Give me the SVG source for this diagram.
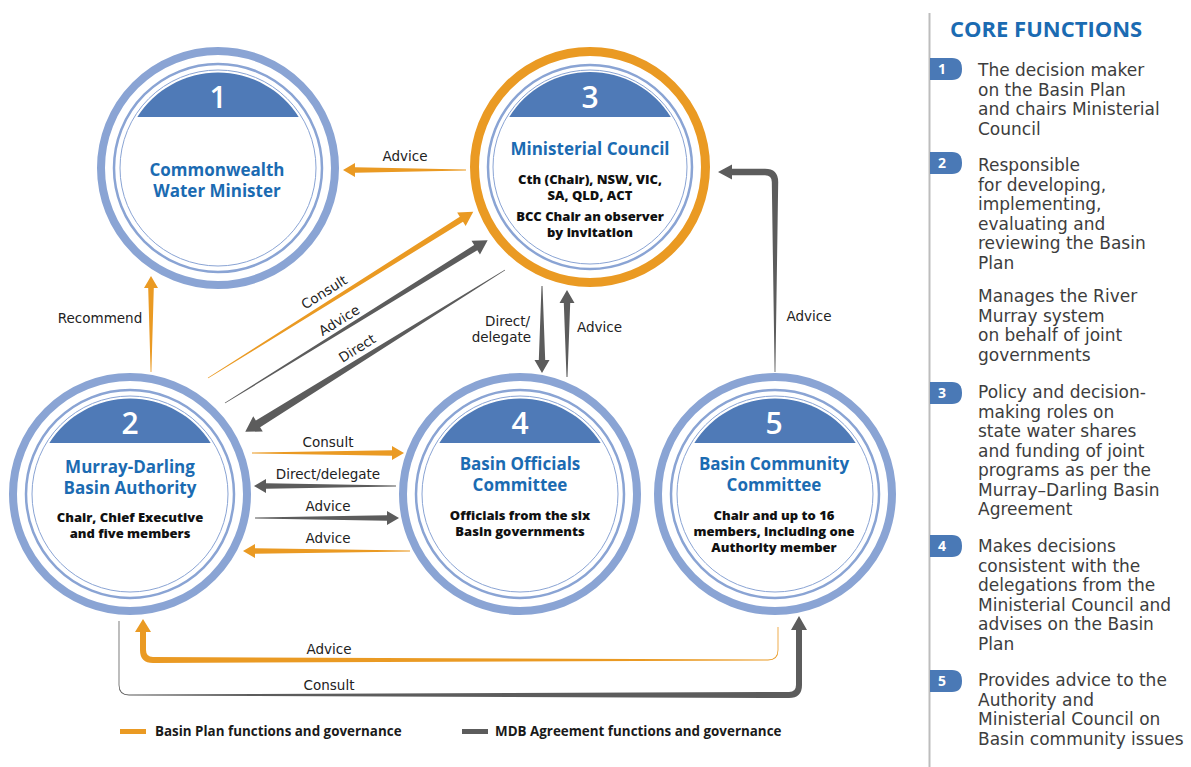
<svg xmlns="http://www.w3.org/2000/svg" width="1191" height="767" viewBox="0 0 1191 767">
  <defs>
    <style>
      .bg { fill: #ffffff; }
      .ring-outer { fill: #ffffff; stroke: #8aa4d4; stroke-width: 8; }
      .ring-orange { fill: #ffffff; stroke: #ea9a23; stroke-width: 9; }
      .ring-mid { fill: none; stroke: #8aa4d4; stroke-width: 2.5; }
      .ring-in { fill: none; stroke: #8aa4d4; stroke-width: 1; }
      .cap { fill: #4f7ab7; }
      .num { font-family: "Open Sans", "Liberation Sans", sans-serif; font-weight: 600; font-size: 30px; fill: #ffffff; text-anchor: middle; }
      .title { font-family: "Open Sans", "Liberation Sans", sans-serif; font-weight: 700; font-size: 17px; fill: #1b6bb2; text-anchor: middle; }
      .sub { font-family: "Open Sans", "Liberation Sans", sans-serif; font-weight: 800; font-size: 13px; fill: #111111; text-anchor: middle; }
      .lbl { font-family: "DejaVu Sans", "Liberation Sans", sans-serif; font-size: 13.5px; fill: #222222; }
      .mid { text-anchor: middle; }
      .end { text-anchor: end; }
      .orange { fill: #ea9a23; }
      .grey { fill: #5c5c5c; }
      .legend { font-family: "Open Sans", "Liberation Sans", sans-serif; font-weight: 700; font-size: 13.4px; fill: #1a1a1a; }
      .head { font-family: "Open Sans", "Liberation Sans", sans-serif; font-weight: 700; font-size: 22px; fill: #1b6bb2; }
      .badge { fill: #4a79b6; }
      .bnum { font-family: "Open Sans", "Liberation Sans", sans-serif; font-weight: 700; font-size: 14px; fill: #ffffff; text-anchor: middle; }
      .fn { font-family: "DejaVu Sans", "Liberation Sans", sans-serif; font-size: 17px; fill: #3d3d3d; }
    </style>
  </defs>

  <rect class="bg" x="0" y="0" width="1191" height="767"/>

  <!-- connectors (tapered arrows: thin tail, thick shaft near the head) -->
  <g id="connectors">
    <!-- 3 -> 1 Advice -->
    <path class="orange" transform="translate(466,170) rotate(180)" d="M0,-0.4 L111,-2.8 L111,-7 L123,0 L111,7 L111,2.8 L0,0.4Z"/>
    <!-- 2 -> 1 Recommend -->
    <path class="orange" transform="translate(151,372) rotate(-90)" d="M0,-0.4 L84,-2.8 L84,-7 L96,0 L84,7 L84,2.8 L0,0.4Z"/>
    <!-- 2 -> 3 Consult -->
    <path class="orange" transform="translate(208,378) rotate(-32.06)" d="M0,-0.4 L299,-3 L299,-8 L313,0 L299,8 L299,3 L0,0.4Z"/>
    <!-- 2 -> 3 Advice -->
    <path class="grey" transform="translate(225,403) rotate(-31.79)" d="M0,-0.4 L295,-3 L295,-8 L309,0 L295,8 L295,3 L0,0.4Z"/>
    <!-- 3 -> 2 Direct -->
    <path class="grey" transform="translate(505,270) rotate(148.08)" d="M0,-0.4 L291,-4 L291,-9 L306,0 L291,9 L291,4 L0,0.4Z"/>
    <!-- 3 -> 4 Direct/delegate -->
    <path class="grey" transform="translate(542,286) rotate(90)" d="M0,-0.5 L74,-3.2 L74,-7.5 L87,0 L74,7.5 L74,3.2 L0,0.5Z"/>
    <!-- 4 -> 3 Advice -->
    <path class="grey" transform="translate(567,377) rotate(-90)" d="M0,-0.5 L74,-3.2 L74,-7.5 L87,0 L74,7.5 L74,3.2 L0,0.5Z"/>
    <!-- 5 -> 3 Advice (up, then left) -->
    <path class="grey" d="M775.4,372 L778.2,182 Q778.2,168.8 765,168.8 L732,168.8 L732,164.5 L718,172 L732,179.5 L732,175.2 L765,175.2 Q771.8,175.2 771.8,182 L774.6,372 Z"/>
    <!-- 2 <-> 4 -->
    <path class="orange" transform="translate(252,453)" d="M0,-0.4 L140,-2.8 L140,-7 L152,0 L140,7 L140,2.8 L0,0.4Z"/>
    <path class="grey" transform="translate(396,486) rotate(180)" d="M0,-0.4 L130,-2.8 L130,-7 L142,0 L130,7 L130,2.8 L0,0.4Z"/>
    <path class="grey" transform="translate(255,518)" d="M0,-0.4 L132,-2.8 L132,-7 L144,0 L132,7 L132,2.8 L0,0.4Z"/>
    <path class="orange" transform="translate(410,551) rotate(180)" d="M0,-0.4 L155,-2.8 L155,-7 L167,0 L155,7 L155,2.8 L0,0.4Z"/>
    <!-- 5 -> 2 Advice (bottom loop) -->
    <path class="orange" d="M778.4,627 L778.4,650 Q778.4,660.4 768,660.4 L153,663 Q140,663 140,650 L140,632 L135,632 L143,619 L151,632 L146,632 L146,650 Q146,657 153,657 L768,659.6 Q777.6,659.6 777.6,650 L777.6,627 Z"/>
    <!-- 2 -> 5 Consult (bottom loop) -->
    <path class="grey" d="M118.6,621 L118.6,685 Q118.6,695.4 129,695.4 L789,698 Q802,698 802,685 L802,630 L807,630 L799,616 L791,630 L796,630 L796,685 Q796,692 789,692 L129,694.6 Q119.4,694.6 119.4,685 L119.4,621 Z"/>

    <!-- connector labels -->
    <text class="lbl mid" x="405" y="161">Advice</text>
    <text class="lbl mid" x="100" y="323">Recommend</text>
    <text class="lbl mid" transform="translate(324,292) rotate(-32)" y="5">Consult</text>
    <text class="lbl mid" transform="translate(339,320) rotate(-32)" y="5">Advice</text>
    <text class="lbl mid" transform="translate(357,348) rotate(-32)" y="5">Direct</text>
    <text class="lbl end" x="530" y="326">Direct/</text>
    <text class="lbl end" x="531" y="342">delegate</text>
    <text class="lbl" x="577" y="332">Advice</text>
    <text class="lbl mid" x="809" y="321">Advice</text>
    <text class="lbl mid" x="328" y="447">Consult</text>
    <text class="lbl mid" x="328" y="479">Direct/delegate</text>
    <text class="lbl mid" x="328" y="511">Advice</text>
    <text class="lbl mid" x="328" y="543">Advice</text>
    <text class="lbl mid" x="329" y="654">Advice</text>
    <text class="lbl mid" x="329" y="690">Consult</text>
  </g>

  <!-- 1 Commonwealth Water Minister -->
  <g id="node-1">
    <circle class="ring-outer" cx="218" cy="168" r="117"/>
    <circle class="ring-mid" cx="218" cy="168" r="104"/>
    <circle class="ring-in" cx="218" cy="168" r="98"/>
    <path class="cap" d="M137.3,117 A95.5,95.5 0 0 1 298.7,117 Z"/>
    <text class="num" x="218" y="108">1</text>
    <text class="title" x="217" y="175.5">Commonwealth</text>
    <text class="title" x="217" y="196.5">Water Minister</text>
  </g>

  <!-- 2 Murray-Darling Basin Authority -->
  <g id="node-2">
    <circle class="ring-outer" cx="130" cy="494" r="117"/>
    <circle class="ring-mid" cx="130" cy="494" r="104"/>
    <circle class="ring-in" cx="130" cy="494" r="98"/>
    <path class="cap" d="M49.3,443 A95.5,95.5 0 0 1 210.7,443 Z"/>
    <text class="num" x="130" y="434">2</text>
    <text class="title" x="130" y="472.5">Murray-Darling</text>
    <text class="title" x="130" y="493.5">Basin Authority</text>
    <text class="sub" x="130" y="522">Chair, Chief Executive</text>
    <text class="sub" x="130" y="538">and five members</text>
  </g>

  <!-- 3 Ministerial Council -->
  <g id="node-3">
    <circle class="ring-orange" cx="590" cy="167" r="115.5"/>
    <circle class="ring-mid" cx="590" cy="167" r="102"/>
    <circle class="ring-in" cx="590" cy="167" r="97"/>
    <path class="cap" d="M509.2,117 A95,95 0 0 1 670.8,117 Z"/>
    <text class="num" x="590" y="108">3</text>
    <text class="title" x="590" y="155">Ministerial Council</text>
    <text class="sub" x="590" y="184">Cth (Chair), NSW, VIC,</text>
    <text class="sub" x="590" y="200">SA, QLD, ACT</text>
    <text class="sub" x="590" y="221">BCC Chair an observer</text>
    <text class="sub" x="590" y="237">by invitation</text>
  </g>

  <!-- 4 Basin Officials Committee -->
  <g id="node-4">
    <circle class="ring-outer" cx="520" cy="494" r="117"/>
    <circle class="ring-mid" cx="520" cy="494" r="104"/>
    <circle class="ring-in" cx="520" cy="494" r="98"/>
    <path class="cap" d="M439.3,443 A95.5,95.5 0 0 1 600.7,443 Z"/>
    <text class="num" x="520" y="434">4</text>
    <text class="title" x="520" y="470">Basin Officials</text>
    <text class="title" x="520" y="491">Committee</text>
    <text class="sub" x="520" y="520">Officials from the six</text>
    <text class="sub" x="520" y="536">Basin governments</text>
  </g>

  <!-- 5 Basin Community Committee -->
  <g id="node-5">
    <circle class="ring-outer" cx="775" cy="494" r="117"/>
    <circle class="ring-mid" cx="775" cy="494" r="104"/>
    <circle class="ring-in" cx="775" cy="494" r="98"/>
    <path class="cap" d="M694.3,443 A95.5,95.5 0 0 1 855.7,443 Z"/>
    <text class="num" x="774" y="434">5</text>
    <text class="title" x="774" y="470">Basin Community</text>
    <text class="title" x="774" y="491">Committee</text>
    <text class="sub" x="774" y="520">Chair and up to 16</text>
    <text class="sub" x="774" y="536">members, including one</text>
    <text class="sub" x="774" y="552">Authority member</text>
  </g>

  <!-- legend -->
  <g id="legend">
    <rect class="orange" x="120" y="729" width="26" height="5"/>
    <text class="legend" x="155" y="736">Basin Plan functions and governance</text>
    <rect class="grey" x="462" y="729" width="26" height="5"/>
    <text class="legend" x="495" y="736">MDB Agreement functions and governance</text>
  </g>

  <!-- side panel: core functions -->
  <g id="core-functions">
    <line x1="929.5" y1="13" x2="929.5" y2="767" stroke="#bdbdbd" stroke-width="2"/>
    <text class="head" x="950" y="37">CORE FUNCTIONS</text>

    <path class="badge" d="M930,58 H952 Q962,58 962,69 Q962,80 952,80 H930 Z"/>
    <text class="bnum" x="942" y="74">1</text>
    <text class="fn" x="978" y="76">
      <tspan x="978">The decision maker</tspan>
      <tspan x="978" dy="19.5">on the Basin Plan</tspan>
      <tspan x="978" dy="19.5">and chairs Ministerial</tspan>
      <tspan x="978" dy="19.5">Council</tspan>
    </text>

    <path class="badge" d="M930,152 H952 Q962,152 962,163 Q962,174 952,174 H930 Z"/>
    <text class="bnum" x="942" y="168">2</text>
    <text class="fn" x="978" y="171">
      <tspan x="978">Responsible</tspan>
      <tspan x="978" dy="19.5">for developing,</tspan>
      <tspan x="978" dy="19.5">implementing,</tspan>
      <tspan x="978" dy="19.5">evaluating and</tspan>
      <tspan x="978" dy="19.5">reviewing the Basin</tspan>
      <tspan x="978" dy="19.5">Plan</tspan>
    </text>
    <text class="fn" x="978" y="302">
      <tspan x="978">Manages the River</tspan>
      <tspan x="978" dy="19.5">Murray system</tspan>
      <tspan x="978" dy="19.5">on behalf of joint</tspan>
      <tspan x="978" dy="19.5">governments</tspan>
    </text>

    <path class="badge" d="M930,382 H952 Q962,382 962,393 Q962,404 952,404 H930 Z"/>
    <text class="bnum" x="942" y="398">3</text>
    <text class="fn" x="978" y="398">
      <tspan x="978">Policy and decision-</tspan>
      <tspan x="978" dy="19.5">making roles on</tspan>
      <tspan x="978" dy="19.5">state water shares</tspan>
      <tspan x="978" dy="19.5">and funding of joint</tspan>
      <tspan x="978" dy="19.5">programs as per the</tspan>
      <tspan x="978" dy="19.5">Murray–Darling Basin</tspan>
      <tspan x="978" dy="19.5">Agreement</tspan>
    </text>

    <path class="badge" d="M930,535 H952 Q962,535 962,546 Q962,557 952,557 H930 Z"/>
    <text class="bnum" x="942" y="551">4</text>
    <text class="fn" x="978" y="552">
      <tspan x="978">Makes decisions</tspan>
      <tspan x="978" dy="19.5">consistent with the</tspan>
      <tspan x="978" dy="19.5">delegations from the</tspan>
      <tspan x="978" dy="19.5">Ministerial Council and</tspan>
      <tspan x="978" dy="19.5">advises on the Basin</tspan>
      <tspan x="978" dy="19.5">Plan</tspan>
    </text>

    <path class="badge" d="M930,670 H952 Q962,670 962,681 Q962,692 952,692 H930 Z"/>
    <text class="bnum" x="942" y="686">5</text>
    <text class="fn" x="978" y="686">
      <tspan x="978">Provides advice to the</tspan>
      <tspan x="978" dy="19.5">Authority and</tspan>
      <tspan x="978" dy="19.5">Ministerial Council on</tspan>
      <tspan x="978" dy="19.5">Basin community issues</tspan>
    </text>
  </g>
</svg>
